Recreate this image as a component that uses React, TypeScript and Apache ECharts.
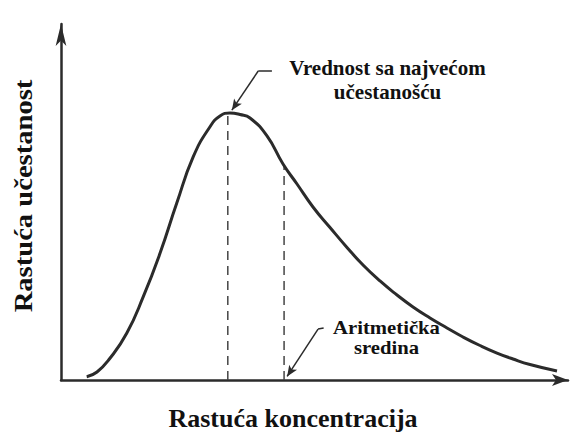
import React, { useEffect, useRef } from "react";
import * as echarts from "echarts";

// Concentration (x, 0–100) and frequency (y, 0–100)
const curveX = [5.07, 7.1, 9.66, 12.96, 16.23, 19.53, 22.82, 26.09, 29.39, 31.36, 33.33, 35.31, 37.28, 40.63, 43.79, 46.55, 49.7, 53.06, 56.41, 59.57, 62.92, 66.27, 69.43, 72.78, 76.13, 79.29, 82.64, 85.99, 89.15, 92.5, 97.83];
const curveY = [0.93, 2.25, 6.1, 13.12, 23.4, 35.59, 49.63, 62.72, 71.15, 74.16, 75.0, 74.58, 73.6, 68.54, 60.67, 55.06, 48.6, 42.84, 37.22, 32.3, 27.81, 23.88, 20.51, 17.42, 14.61, 12.08, 9.69, 7.58, 5.9, 4.35, 2.53];

const modeX = 32.9;
const modeY = 74.6;
const meanX = 44.0;
const meanY = 59.8;

const xTitle = "Rastuća koncentracija";
const yTitle = "Rastuća učestanost";
const modeLabel = ["Vrednost sa najvećom", "učestanošću"];
const meanLabel = ["Aritmetička", "sredina"];

// leader lines (data coords): [elbow, end of short dash, arrow tip]
const modeLeader = [[38.9, 86.8], [41.6, 86.8], [33.7, 75.8]];
const meanLeader = [[50.7, 14.3], [51.8, 14.6], [44.6, 1.0]];

const FONT = "'Liberation Serif', 'Times New Roman', serif";
const INK = "#2b2b2b";

export default function App() {
  const ref = useRef<HTMLDivElement>(null);
  useEffect(() => {
    if (!ref.current) return;
    const chart = echarts.init(ref.current, null, { renderer: "svg" });
    const curve = curveX.map((x, i) => [x, curveY[i]]);
    const leaderLine = (pts: number[][]) => ({
      type: "line",
      data: [],
      silent: true,
      markLine: {
        silent: true,
        animation: false,
        symbol: ["none", "none"],
        label: { show: false },
        lineStyle: { color: INK, width: 1.5, type: "solid" },
        data: [
          [{ coord: pts[0], symbol: "none" }, { coord: pts[1], symbol: "none" }],
          [{ coord: pts[0], symbol: "none" }, { coord: pts[2], symbol: "arrow", symbolSize: [7, 11] }],
        ],
      },
    });
    const textEl = (text: string, x: number, y: number, size: number, lineHeight: number, extra: any = {}) => ({
      type: "text",
      x,
      y,
      ...extra,
      style: {
        text,
        fill: "#111",
        font: `bold ${size}px ${FONT}`,
        lineHeight,
        align: "center",
        textAlign: "center",
        verticalAlign: "middle",
        textVerticalAlign: "middle",
      },
    });
    chart.setOption({
      animation: false,
      backgroundColor: "#ffffff",
      grid: { left: 61, right: 9, top: 24, bottom: 55 },
      xAxis: {
        type: "value",
        min: 0,
        max: 100,
        axisLine: { show: true, lineStyle: { color: INK, width: 2.5 }, symbol: ["none", "arrow"], symbolSize: [9, 16] },
        axisTick: { show: false },
        axisLabel: { show: false },
        splitLine: { show: false },
      },
      yAxis: {
        type: "value",
        min: 0,
        max: 100,
        axisLine: { show: true, lineStyle: { color: INK, width: 2.5 }, symbol: ["none", "arrow"], symbolSize: [8, 22] },
        axisTick: { show: false },
        axisLabel: { show: false },
        splitLine: { show: false },
      },
      series: [
        {
          type: "line",
          data: curve,
          smooth: 0.5,
          showSymbol: false,
          symbol: "none",
          lineStyle: { color: INK, width: 3 },
          z: 5,
        },
        {
          type: "line",
          data: [[modeX, 0], [modeX, modeY]],
          symbol: "none",
          lineStyle: { color: "#444", width: 1.5, type: [9, 6] },
        },
        {
          type: "line",
          data: [[meanX, 0], [meanX, meanY]],
          symbol: "none",
          lineStyle: { color: "#444", width: 1.5, type: [9, 6] },
        },
        leaderLine(modeLeader),
        leaderLine(meanLeader),
      ],
      graphic: [
        textEl(modeLabel.join("\n"), 387.5, 80, 21, 23.5),
        textEl(meanLabel.join("\n"), 386.5, 338, 18, 20.5, { scaleX: 1.15 }),
        textEl(xTitle, 293, 418, 26, 30),
        textEl(yTitle, 23, 196, 26, 30, { rotation: Math.PI / 2, scaleX: 1.1 }),
      ],
    });
    return () => chart.dispose();
  }, []);
  return <div ref={ref} style={{ width: 577, height: 435, position: "absolute", left: 0, top: 0 }} />;
}
